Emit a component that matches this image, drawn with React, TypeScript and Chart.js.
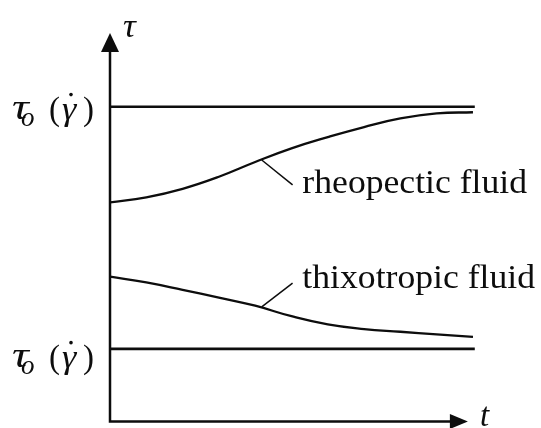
import React, { useEffect, useRef } from "react";
import { Chart, registerables } from "chart.js";

Chart.register(...registerables);

// Time samples (arbitrary units) and the shear stress of each fluid at those times
const timeSteps = [0, 1, 2, 3, 4, 5, 6, 7, 8, 9, 10];
const rheopecticStress = [5.64, 5.77, 5.99, 6.3, 6.68, 7.03, 7.32, 7.58, 7.8, 7.93, 7.96];
const thixotropicStress = [3.73, 3.58, 3.39, 3.19, 2.98, 2.71, 2.5, 2.38, 2.31, 2.24, 2.18];

// Equilibrium stress levels τo(γ̇) drawn as horizontal reference lines
const levelSpan = [0, 10.05];
const upperLevel = 8.1;
const lowerLevel = 1.87;

// Curve names with the point on the curve where each leader line starts
const curveNames = ["rheopectic fluid", "thixotropic fluid"];
const leaderFrom = [
  { t: 4.18, tau: 6.73 },
  { t: 4.18, tau: 2.95 },
];
const leaderTo = [
  { t: 5.03, tau: 6.09 },
  { t: 5.03, tau: 3.56 },
];
const nameAnchor = [
  { t: 5.3, tau: 5.87 },
  { t: 5.3, tau: 3.43 },
];

const axisLabels = { y: "τ", x: "t" };
const xAxisEnd = 9.86;

const INK = "#0d0d0d";
const SERIF = '"Liberation Serif", "Times New Roman", "DejaVu Serif", serif';

function stretched(ctx: CanvasRenderingContext2D, text: string, px: number, py: number, sx: number) {
  ctx.save();
  ctx.translate(px, py);
  ctx.scale(sx, 1);
  ctx.fillText(text, 0, 0);
  ctx.restore();
}

// τo(γ̇) written piece by piece so the subscript and the dot sit right
function drawLevelLabel(ctx: CanvasRenderingContext2D, left: number, base: number) {
  ctx.textBaseline = "alphabetic";
  ctx.textAlign = "left";
  ctx.font = `italic 36px ${SERIF}`;
  stretched(ctx, "τ", left, base - 1, 1.3);
  ctx.font = `italic 27px ${SERIF}`;
  ctx.fillText("o", left + 9, base + 6);
  ctx.font = `33px ${SERIF}`;
  ctx.fillText("(", left + 37, base);
  ctx.font = `italic 33px ${SERIF}`;
  stretched(ctx, "γ", left + 50, base, 1.1);
  ctx.beginPath();
  ctx.arc(left + 59, base - 25, 1.8, 0, Math.PI * 2);
  ctx.fill();
  ctx.font = `33px ${SERIF}`;
  ctx.fillText(")", left + 71, base);
}

const annotations = {
  id: "annotations",
  afterDatasetsDraw(chart: Chart) {
    const ctx = chart.ctx;
    const x = chart.scales.x;
    const y = chart.scales.y;
    const x0 = x.getPixelForValue(0);
    const y0 = y.getPixelForValue(0);
    const yTop = y.getPixelForValue(10);
    const xEnd = x.getPixelForValue(xAxisEnd);

    ctx.save();
    ctx.strokeStyle = INK;
    ctx.fillStyle = INK;
    ctx.lineCap = "butt";

    // axes with arrow heads
    ctx.lineWidth = 2.5;
    ctx.beginPath();
    ctx.moveTo(x0, y0 + 1.2);
    ctx.lineTo(x0, yTop + 16);
    ctx.moveTo(x0 - 1.2, y0);
    ctx.lineTo(xEnd - 15, y0);
    ctx.stroke();

    ctx.beginPath();
    ctx.moveTo(x0, yTop);
    ctx.lineTo(x0 - 9, yTop + 19);
    ctx.lineTo(x0 + 9, yTop + 19);
    ctx.closePath();
    ctx.fill();

    ctx.beginPath();
    ctx.moveTo(xEnd, y0);
    ctx.lineTo(xEnd - 18, y0 - 7.5);
    ctx.lineTo(xEnd - 18, y0 + 7.5);
    ctx.closePath();
    ctx.fill();

    // axis names
    ctx.textAlign = "left";
    ctx.textBaseline = "alphabetic";
    ctx.font = `italic 34px ${SERIF}`;
    stretched(ctx, axisLabels.y, x0 + 13, yTop + 4, 1.05);
    ctx.font = `italic 33px ${SERIF}`;
    ctx.fillText(axisLabels.x, xEnd + 12, y0 + 4);

    // level labels
    drawLevelLabel(ctx, 12, y.getPixelForValue(upperLevel) + 12.8);
    drawLevelLabel(ctx, 12, y.getPixelForValue(lowerLevel) + 18.8);

    // leader lines and curve names
    ctx.lineWidth = 1.5;
    for (let i = 0; i < curveNames.length; i++) {
      ctx.beginPath();
      ctx.moveTo(x.getPixelForValue(leaderFrom[i].t), y.getPixelForValue(leaderFrom[i].tau));
      ctx.lineTo(x.getPixelForValue(leaderTo[i].t), y.getPixelForValue(leaderTo[i].tau));
      ctx.stroke();
      ctx.font = `33px ${SERIF}`;
      stretched(
        ctx,
        curveNames[i],
        x.getPixelForValue(nameAnchor[i].t),
        y.getPixelForValue(nameAnchor[i].tau),
        1.08
      );
    }
    ctx.restore();
  },
};

export default function App() {
  const canvasRef = useRef<HTMLCanvasElement | null>(null);

  useEffect(() => {
    document.body.style.margin = "0";
    const canvas = canvasRef.current;
    if (!canvas) return;

    const curve = (ys: number[]) => timeSteps.map((t, i) => ({ x: t, y: ys[i] }));
    const level = (v: number) => levelSpan.map((t) => ({ x: t, y: v }));
    const lineStyle = {
      borderColor: INK,
      borderWidth: 2.3,
      pointRadius: 0,
      fill: false,
      tension: 0.45,
    };

    const chart = new Chart(canvas, {
      type: "line",
      data: {
        datasets: [
          { label: "τo upper", data: level(upperLevel), ...lineStyle, borderWidth: 2.4, tension: 0 },
          { label: "τo lower", data: level(lowerLevel), ...lineStyle, borderWidth: 2.6, tension: 0 },
          { label: curveNames[0], data: curve(rheopecticStress), ...lineStyle },
          { label: curveNames[1], data: curve(thixotropicStress), ...lineStyle },
        ],
      },
      options: {
        animation: false,
        responsive: false,
        devicePixelRatio: 1,
        layout: { padding: { left: 110, right: 64.4, top: 33, bottom: 6.5 } },
        scales: {
          x: { type: "linear", min: 0, max: 10.1, display: false },
          y: { type: "linear", min: 0, max: 10, display: false },
        },
        plugins: {
          legend: { display: false },
          tooltip: { enabled: false },
        },
      },
      plugins: [annotations],
    });

    return () => chart.destroy();
  }, []);

  return (
    <div style={{ position: "fixed", left: 0, top: 0, width: 541, height: 428, background: "#fff" }}>
      <canvas ref={canvasRef} width={541} height={428} />
    </div>
  );
}
